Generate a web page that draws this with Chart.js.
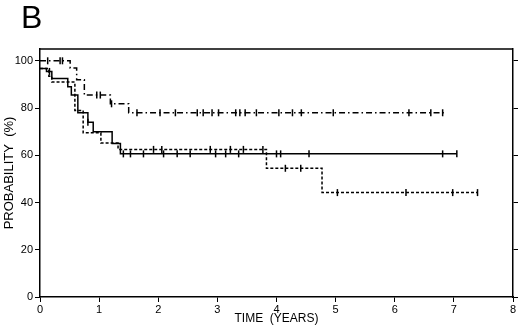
<!DOCTYPE html>
<html>
<head>
<meta charset="utf-8">
<script src="https://cdn.jsdelivr.net/npm/chart.js@4.4.1/dist/chart.umd.min.js"></script>
<style>
  html, body { margin: 0; padding: 0; background: #fff; }
  #wrap { width: 520px; height: 329px; }
</style>
</head>
<body>
<div id="wrap"><canvas id="kmChart" width="520" height="329"></canvas></div>
<script>
// survival steps (years, %)
const dashDotTimes = [0, 0.51, 0.62, 0.75, 1.19, 1.5, 6.83];
const dashDotProb = [100, 97, 92, 85.5, 81.8, 78, 78];
const dashDotCensor = [0.13, 0.34, 0.38, 0.96, 1.02, 1.21, 1.64, 2.03, 2.29, 2.66, 2.76, 2.91, 3.02, 3.31, 3.38, 3.47, 3.66, 4.04, 4.27, 4.42, 4.96, 6.24, 6.61, 6.81];

const solidTimes = [0, 0.11, 0.2, 0.47, 0.53, 0.64, 0.81, 0.9, 1.22, 1.36, 7.05];
const solidProb = [96.7, 95.5, 92.5, 89, 85.5, 78, 74, 70, 65, 60.6, 60.6];
const solidCensor = [0.16, 0.81, 1.41, 1.53, 1.75, 2.09, 2.32, 2.54, 2.97, 3.14, 3.36, 4.0, 4.07, 4.55, 6.81, 7.05];

const dottedTimes = [0, 0.15, 0.2, 0.59, 0.73, 1.03, 1.32, 3.83, 4.77, 7.4];
const dottedProb = [96.7, 93.5, 91, 79, 69.5, 65.2, 62.5, 54.5, 44.2, 44.2];
const dottedCensor = [1.92, 2.06, 2.88, 3.22, 3.44, 3.77, 4.15, 4.41, 5.03, 6.19, 6.98, 7.4];

const xTicks = [0, 1, 2, 3, 4, 5, 6, 7, 8];
const yTicks = [0, 20, 40, 60, 80, 100];

const FONT = "'Liberation Sans', Arial, Helvetica, sans-serif";

function stepPoints(times, probs) {
    return times.map((t, i) => ({ x: t, y: probs[i] }));
}

// censor marks sit on the curve at that time
function censorPoints(censor, times, probs) {
    return censor.map(function(c) {
        let v = probs[0];
        for (let i = 0; i < times.length; i++) {
            if (times[i] <= c) v = probs[i];
        }
        return { x: c, y: v };
    });
}

function curve(times, probs, dash) {
    return {
        data: stepPoints(times, probs),
        stepped: 'before',
        borderColor: '#000',
        borderWidth: 1.5,
        borderDash: dash,
        pointRadius: 0,
        fill: false
    };
}

function marks(censor, times, probs) {
    return {
        data: censorPoints(censor, times, probs),
        showLine: false,
        pointStyle: 'line',
        rotation: 90,
        pointRadius: 3.5,
        pointBorderWidth: 1.5,
        pointBorderColor: '#000',
        borderColor: '#000'
    };
}

const framePlugin = {
    id: 'frame',
    afterDraw(chart) {
        const ctx = chart.ctx;
        const a = chart.chartArea;
        ctx.save();
        ctx.strokeStyle = '#000';
        ctx.lineWidth = 1.5;
        ctx.beginPath();
        ctx.moveTo(a.left, a.top);
        ctx.lineTo(a.right, a.top);
        ctx.stroke();
        ctx.fillStyle = '#000';
        ctx.font = '32px ' + FONT;
        ctx.textBaseline = 'alphabetic';
        ctx.fillText('B', 21, 28);
        ctx.restore();
    }
};

const ctx = document.getElementById('kmChart').getContext('2d');
new Chart(ctx, {
    type: 'line',
    data: {
        datasets: [
            curve(dashDotTimes, dashDotProb, [6, 3, 1.5, 3]),
            curve(solidTimes, solidProb, []),
            curve(dottedTimes, dottedProb, [3, 2]),
            marks(dashDotCensor, dashDotTimes, dashDotProb),
            marks(solidCensor, solidTimes, solidProb),
            marks(dottedCensor, dottedTimes, dottedProb)
        ]
    },
    options: {
        responsive: false,
        animation: false,
        layout: { padding: { top: 49, left: 0, right: 0, bottom: 0 } },
        plugins: {
            legend: { display: false },
            tooltip: { enabled: false }
        },
        scales: {
            x: {
                type: 'linear',
                min: 0,
                max: 8,
                afterBuildTicks: s => { s.ticks = xTicks.map(v => ({ value: v })); },
                afterFit: s => { s.height = 32; },
                ticks: { color: '#000', font: { family: FONT, size: 11 }, padding: 1 },
                grid: { drawOnChartArea: false, color: '#000', tickLength: 5, lineWidth: 1 },
                border: { color: '#000', width: 1.5 },
                title: {
                    display: true,
                    text: 'TIME  (YEARS)',
                    color: '#000',
                    font: { family: FONT, size: 12 },
                    padding: { top: 0, bottom: 3 }
                }
            },
            y: {
                min: 0,
                max: 105,
                afterBuildTicks: s => { s.ticks = yTicks.map(v => ({ value: v })); },
                afterFit: s => { s.width = 40; },
                ticks: { color: '#000', font: { family: FONT, size: 11 }, padding: 2 },
                grid: { drawOnChartArea: false, color: '#000', tickLength: 5, lineWidth: 1 },
                border: { color: '#000', width: 1.5 },
                title: {
                    display: true,
                    text: 'PROBABILITY  (%)',
                    color: '#000',
                    font: { family: FONT, size: 13 },
                    padding: { top: 2, bottom: 0 }
                }
            },
            y2: {
                position: 'right',
                min: 0,
                max: 105,
                afterBuildTicks: s => { s.ticks = yTicks.map(v => ({ value: v })); },
                afterFit: s => { s.width = 7; },
                ticks: { display: false },
                grid: { drawOnChartArea: false, color: '#000', tickLength: 5, lineWidth: 1 },
                border: { color: '#000', width: 1.5 }
            }
        }
    },
    plugins: [framePlugin]
});
</script>
</body>
</html>
